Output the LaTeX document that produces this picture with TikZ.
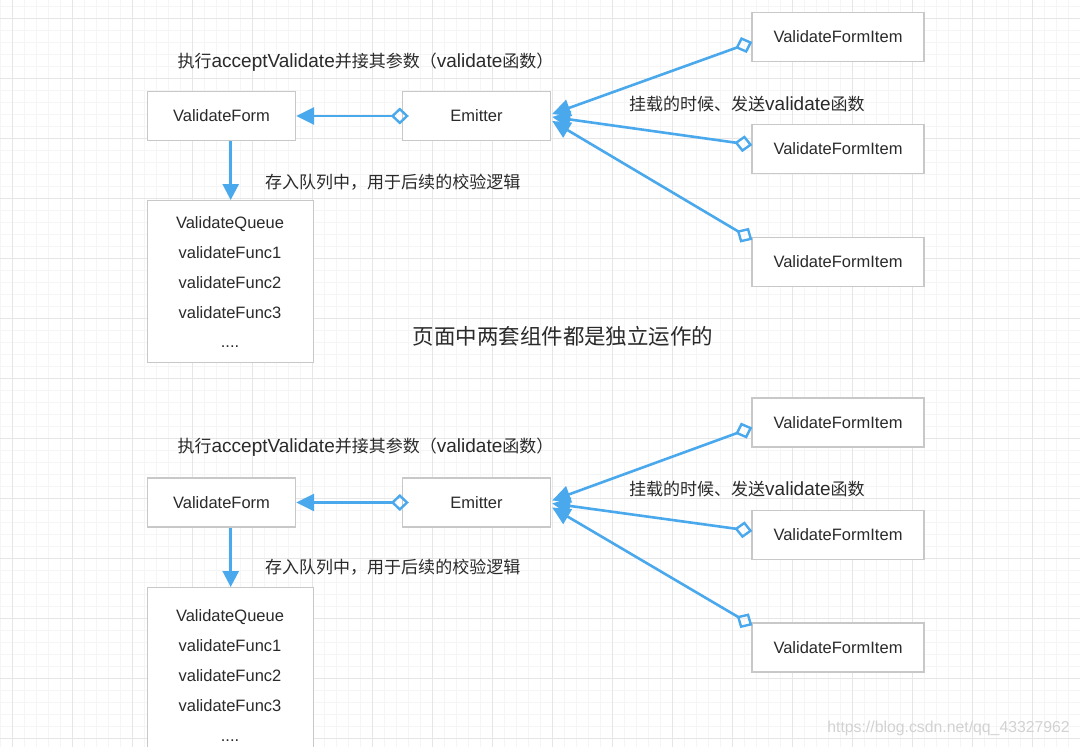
\documentclass[tikz,border=0pt]{standalone}
\usepackage{fontspec}
\setmainfont{Liberation Sans}
\newfontfamily\cjk{Noto Sans CJK SC}[Scale=0.895]
\usetikzlibrary{arrows.meta,calc}
\definecolor{arrowblue}{HTML}{4AA8EC}
\definecolor{boxgray}{HTML}{C8C8C8}
\definecolor{txt}{HTML}{2A2A2A}
\definecolor{gridminor}{HTML}{F5F5F5}
\definecolor{gridmajor}{HTML}{E6E6E6}
\definecolor{wmgray}{HTML}{D2D2D2}
\begin{document}
\begin{tikzpicture}[x=1bp,y=-1bp,
  box/.style={draw=boxgray, line width=1.4bp, fill=white, inner sep=0pt, text=txt, font=\fontsize{16.5bp}{20bp}\selectfont},
  formbox/.style={box, minimum width=148bp, minimum height=49bp},
  itembox/.style={box, minimum width=172bp, minimum height=49bp},
  queuebox/.style={box, anchor=north west, minimum width=166bp, minimum height=#1},
  qline/.style={anchor=base, text=txt, font=\fontsize{16.5bp}{20bp}\selectfont, inner sep=0pt},
  lbl/.style={text=txt, font=\fontsize{19bp}{22bp}\selectfont, inner sep=0pt},
  biglbl/.style={text=txt, font=\fontsize{24bp}{28bp}\selectfont, inner sep=0pt},
  flow/.style={draw=arrowblue, line width=2.6bp, -{Triangle[length=16bp,width=16bp]}},
  emit/.style={draw=arrowblue, line width=2.6bp, {Diamond[open,length=18bp,width=17bp,line width=2.4bp]}-{Triangle[length=18bp,width=17bp]}},
  minorgrid/.style={draw=gridminor, line width=0.8bp},
  majorgrid/.style={draw=gridmajor, line width=0.9bp}
]
\useasboundingbox (0,0) rectangle (1080,747);
\clip (0,0) rectangle (1080,747);
\fill[white] (0,0) rectangle (1080,747);
% grid
\foreach \x in {0,12,...,1080} \draw[minorgrid] (\x,0) -- (\x,747);
\foreach \y in {6,18,...,750} \draw[minorgrid] (0,\y) -- (1080,\y);
\foreach \x in {12,72,...,1080} \draw[majorgrid] (\x,0) -- (\x,747);
\foreach \y in {18,78,...,750} \draw[majorgrid] (0,\y) -- (1080,\y);

% ---------- top group ----------
\node[formbox] (vf) at (221.5,116) {ValidateForm};
\node[formbox] (em) at (476.5,116) {Emitter};
\node[itembox] (ia) at (838,37) {ValidateFormItem};
\node[itembox] (ib) at (838,149) {ValidateFormItem};
\node[itembox] (ic) at (838,262) {ValidateFormItem};
\node[queuebox=162bp] (q) at (147,200) {};
\node[qline] (qa) at (230,228) {ValidateQueue};
\node[qline] (qb) at (230,258) {validateFunc1};
\node[qline] (qc) at (230,288) {validateFunc2};
\node[qline] (qd) at (230,318) {validateFunc3};
\node[qline] (qe) at (230,347) {....};
\node[lbl] (ta) at (365.5,62) {{\cjk 执行}acceptValidate{\cjk 并接其参数（}validate{\cjk 函数）}};
\node[lbl, anchor=west] (tb) at (265,182) {\cjk 存入队列中，用于后续的校验逻辑};
\node[lbl, anchor=west] (tc) at (629,104) {{\cjk 挂载的时候、发送}validate{\cjk 函数}};
\draw[emit] ([xshift=7bp]em.west) -- (vf.east);
\draw[flow] (vf.south -| q.north) -- (q.north);
\draw[emit] ($(ia.west)+(1,5)$) -- ($(em.east)+(1,-2)$);
\draw[emit] ($(ib.west)+(1,-4)$) -- ($(em.east)+(1,1)$);
\draw[emit] ($(ic.north west)+(1,3)$) -- ($(em.east)+(1,5)$);

% middle label
\node[biglbl] (mid) at (563,336) {\cjk 页面中两套组件都是独立运作的};

% ---------- bottom group ----------
\node[formbox] (vf2) at (221.5,502.5) {ValidateForm};
\node[formbox] (em2) at (476.5,502.5) {Emitter};
\node[itembox] (ia2) at (838,422.5) {ValidateFormItem};
\node[itembox] (ib2) at (838,535) {ValidateFormItem};
\node[itembox] (ic2) at (838,647.5) {ValidateFormItem};
\node[queuebox=180bp] (q2) at (147,587) {};
\node[qline] (qa2) at (230,621) {ValidateQueue};
\node[qline] (qb2) at (230,651) {validateFunc1};
\node[qline] (qc2) at (230,681) {validateFunc2};
\node[qline] (qd2) at (230,711) {validateFunc3};
\node[qline] (qe2) at (230,741) {....};
\node[lbl] (ta2) at (365.5,447) {{\cjk 执行}acceptValidate{\cjk 并接其参数（}validate{\cjk 函数）}};
\node[lbl, anchor=west] (tb2) at (265,567) {\cjk 存入队列中，用于后续的校验逻辑};
\node[lbl, anchor=west] (tc2) at (629,489) {{\cjk 挂载的时候、发送}validate{\cjk 函数}};
\draw[emit] ([xshift=7bp]em2.west) -- (vf2.east);
\draw[flow] (vf2.south -| q2.north) -- (q2.north);
\draw[emit] ($(ia2.west)+(1,5)$) -- ($(em2.east)+(1,-2)$);
\draw[emit] ($(ib2.west)+(1,-4)$) -- ($(em2.east)+(1,1)$);
\draw[emit] ($(ic2.north west)+(1,3)$) -- ($(em2.east)+(1,5)$);

% watermark
\node[anchor=east, text=wmgray, font=\fontsize{15.8bp}{18bp}\selectfont, inner sep=0pt] (wm) at (1070,728) {https://blog.csdn.net/qq\_43327962};
\end{tikzpicture}
\end{document}
